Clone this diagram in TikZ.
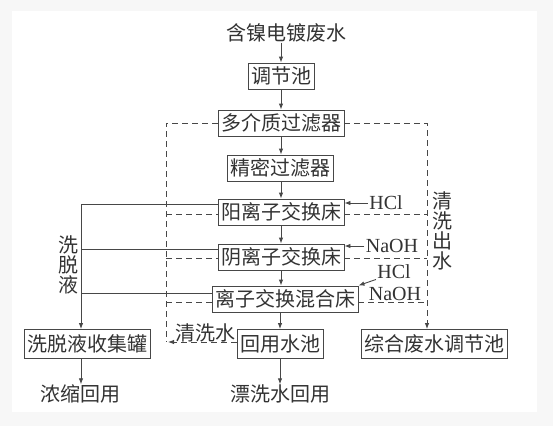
\documentclass[tikz,border=0pt]{standalone}
\usepackage{fontspec}
\setmainfont{Liberation Serif}
\newfontfamily\cjk{Noto Sans CJK SC}
\usetikzlibrary{arrows.meta}
\definecolor{linec}{HTML}{474747}
\definecolor{textc}{HTML}{333333}
\newcommand{\cnfont}{\cjk\fontsize{20}{20}\selectfont}
\newcommand{\enfont}{\fontsize{20}{20}\selectfont}

\begin{document}
\begin{tikzpicture}[x=1pt, y=-1pt, line width=0.9pt, color=linec, text=textc,
  box/.style={draw=linec, font=\cnfont, inner xsep=3pt, inner ysep=0pt, minimum height=26pt},
  lab/.style={font=\cnfont, inner sep=0pt},
  chem/.style={font=\enfont, inner xsep=1pt, inner ysep=0pt},
  arr/.style={-{Latex[length=6pt, width=4.5pt]}},
  wash/.style={dash pattern=on 6pt off 4pt}]
  \fill[black!3] (0,0) rectangle (553,426);
  \fill[white] (12,11) rectangle (537,412);
  \useasboundingbox (0,0) rectangle (553,426);
  \coordinate (L) at (166,123);
  \coordinate (R) at (427,123);
  \coordinate (E) at (81,204);
  \node[lab] (src) at (286,33) {含镍电镀废水};
  \node[box] (tj) at (281,76) {调节池};
  \node[box] (dj) at (281,123) {多介质过滤器};
  \node[box] (jm) at (280,168) {精密过滤器};
  \node[box] (yang) at (281,212) {阳离子交换床};
  \node[box] (yin) at (281,257) {阴离子交换床};
  \node[box] (hh) at (285,299) {离子交换混合床};
  \node[box, minimum height=29pt] (hy) at (280,344) {回用水池};
  \node[box, minimum height=29pt] (xt) at (87,344) {洗脱液收集罐};
  \node[box, minimum height=29pt] (zh) at (434,344) {综合废水调节池};
  \node[lab] (ns) at (80,394) {浓缩回用};
  \node[lab] (px) at (280,394) {漂洗水回用};
  \node[lab, align=center] (xtl) at (68,265) {洗\\脱\\液};
  \node[lab, align=center] (qx) at (442,231) {清\\洗\\出\\水};
  \node[lab] (qxs) at (205,333) {清洗水};
  \node[chem] (hcl1) at (386,203) {HCl};
  \node[chem] (naoh1) at (392,246) {NaOH};
  \node[chem] (hcl2) at (394,272) {HCl};
  \node[chem] (naoh2) at (395,294) {NaOH};
  % main line
  \draw[arr] (src.south -| tj) -- (tj.north);
  \draw[arr] (tj.south) -- (dj.north);
  \draw[arr] (dj.south) -- (jm.north -| dj);
  \draw[arr] (jm.south -| dj) -- (yang.north);
  \draw[arr] (yang.south) -- (yin.north);
  \draw[arr] (yin.south) -- (yin.south |- hh.north);
  \draw[arr] (hh.south -| hy) -- (hy.north);
  \draw[arr] (hy.south) -- (px.north -| hy);
  % eluate
  \draw[arr] (yang.west |- E) -- (E) -- (xt.north -| E);
  \draw (yin.west |- 0,249) -- (E |- 0,249);
  \draw (hh.west |- 0,293) -- (E |- 0,293);
  \draw[arr] (xt.south -| E) -- (ns.north -| E);
  % rinse water
  \draw[wash] (dj.west) -- (L) -- (L |- 0,342);
  \draw[wash, arr] (hy.west |- 0,342) -- (168,342);
  \draw[wash] (L |- 0,214) -- (yang.west |- 0,214);
  \draw[wash] (L |- 0,258) -- (yin.west |- 0,258);
  \draw[wash] (L |- 0,302) -- (hh.west |- 0,302);
  \draw[wash, arr] (dj.east) -- (R) -- (R |- zh.north);
  \draw[wash] (yang.east |- 0,214) -- (R |- 0,214);
  \draw[wash] (yin.east |- 0,258) -- (R |- 0,258);
  \draw[wash] (hh.east |- 0,302) -- (R |- 0,302);
  % regenerants
  \draw[arr] (hcl1.west) -- (yang.east |- hcl1.west);
  \draw[arr] (naoh1.west) -- (yin.east |- naoh1.west);
  \draw[arr] (hcl2.south west) -- (hh.north east);
\end{tikzpicture}
\end{document}
